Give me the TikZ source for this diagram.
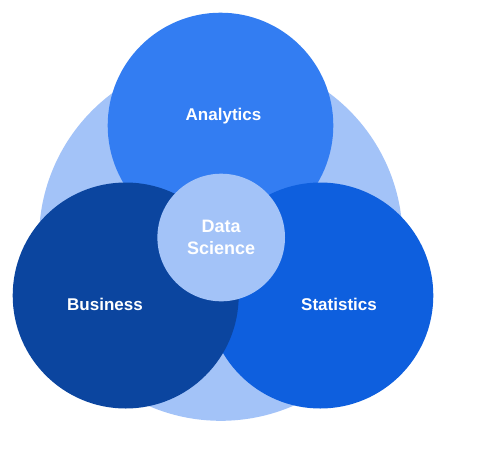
\documentclass[tikz,border=0pt]{standalone}
\usepackage{fontspec}
\setmainfont{Liberation Sans}
\usetikzlibrary{positioning}
\definecolor{outer}{HTML}{A3C3F8}
\definecolor{analytics}{HTML}{337DF2}
\definecolor{statistics}{HTML}{0E5FDE}
\definecolor{business}{HTML}{0B459F}
\begin{document}
\begin{tikzpicture}[x=1pt, y=-1pt,
  c/.style={circle, inner sep=0pt, text=white, font=\bfseries\fontsize{18}{21.7}\selectfont},
  t/.style={anchor=base, text=white, font=\bfseries\fontsize{17}{20}\selectfont}]
  \useasboundingbox (0,0) rectangle (495,448);
  % circles
  \node[c, fill=outer, minimum size=363.6pt] (all) at (220.8,239) {};
  \node[c, fill=analytics, minimum size=225.6pt] (ana) at (220.5,125.5) {};
  \node[c, fill=statistics, minimum size=226pt] (sta) at (320.3,295.5) {};
  \node[c, fill=business, minimum size=226pt] (bus) at (125.7,295.5) {};
  \node[c, fill=outer, minimum size=127.6pt, align=center] (ds) at (221.2,237.5) {Data\\Science};

  % labels
  \node[t] (anat) at (223.5,120) {Analytics};
  \node[t] (bust) at (105,310) {Business};
  \node[t] (stat) at (339,310) {Statistics};
\end{tikzpicture}
\end{document}
